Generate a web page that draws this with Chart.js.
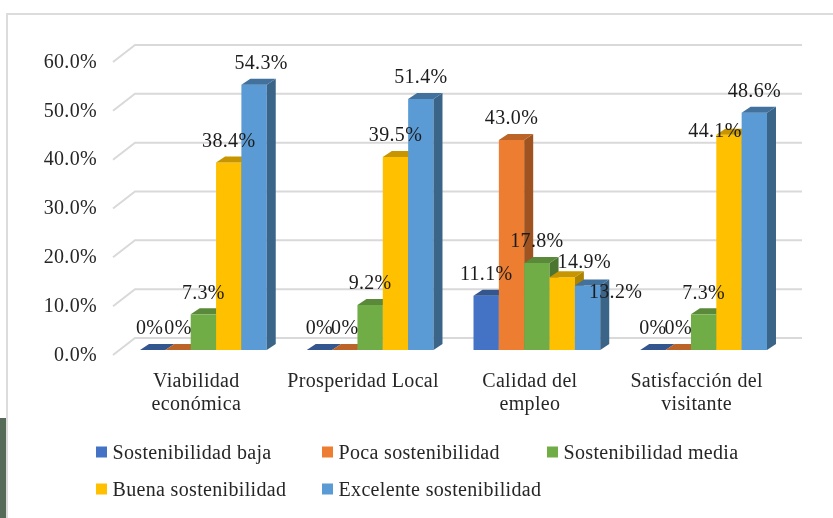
<!DOCTYPE html>
<html>
<head>
<meta charset="utf-8">
<script src="https://cdn.jsdelivr.net/npm/chart.js@4/dist/chart.umd.min.js"></script>
<style>
    html, body { margin: 0; background: #fff; overflow: hidden; }
    #wrap { position: relative; width: 833px; height: 518px; }
    #patch { position: absolute; left: 0; top: 418px; width: 6px; height: 100px; background: #566c58; }
    #frame { position: absolute; left: 6px; top: 13px; width: 840px; height: 503px; border: 2px solid #dcdcdc; border-bottom-color: #efefef; }
    canvas { position: absolute; left: 0; top: 0; filter: blur(0.35px); }
</style>
</head>
<body>
<div id="wrap">
    <div id="patch"></div>
    <div id="frame"></div>
    <canvas id="chart-area" width="833" height="518"></canvas>
</div>
<script>
var categories = [['Viabilidad', 'económica'], 'Prosperidad Local', ['Calidad del', 'empleo'], ['Satisfacción del', 'visitante']];
var seriesNames = ['Sostenibilidad baja', 'Poca sostenibilidad', 'Sostenibilidad media', 'Buena sostenibilidad', 'Excelente sostenibilidad'];
var baja = [0, 0, 11.1, 0];
var poca = [0, 0, 43.0, 0];
var media = [7.3, 9.2, 17.8, 7.3];
var buena = [38.4, 39.5, 14.9, 44.1];
var excelente = [54.3, 51.4, 13.2, 48.6];
var seriesValues = [baja, poca, media, buena, excelente];
var yTicks = [0, 10, 20, 30, 40, 50, 60];

var frontColors = ['#4472C4', '#ED7D31', '#70AD47', '#FFC000', '#5B9BD5'];
var topColors = ['#34568F', '#BC6327', '#5A8A39', '#C79500', '#41719C'];
var sideColors = ['#2F4F86', '#9E5320', '#4C7630', '#AD8400', '#3A6488'];

var font = { family: '"Liberation Serif", serif', size: 20 };
var depthX = 9, depthY = 6;

// labels that sit away from their bar in the picture: [series, category, dx, dy]
var labelNudges = [[3, 2, 22, 7], [4, 2, 28, 28], [3, 3, -14, 18], [0, 0, -3, 0], [4, 0, 7, 0]];

function pctLabel(v) {
    return v === 0 ? '0%' : v.toFixed(1) + '%';
}

function drawFaces(chart, i) {
    var ctx = chart.ctx;
    chart.getDatasetMeta(i).data.forEach(function (bar) {
        var p = bar.getProps(['x', 'y', 'base', 'width'], true);
        var l = p.x - p.width / 2, r = p.x + p.width / 2;
        ctx.fillStyle = sideColors[i];
        ctx.beginPath();
        ctx.moveTo(r, p.y);
        ctx.lineTo(r + depthX, p.y - depthY);
        ctx.lineTo(r + depthX, p.base - depthY);
        ctx.lineTo(r, p.base);
        ctx.closePath();
        ctx.fill();
        ctx.fillStyle = topColors[i];
        ctx.beginPath();
        ctx.moveTo(l, p.y);
        ctx.lineTo(l + depthX, p.y - depthY);
        ctx.lineTo(r + depthX, p.y - depthY);
        ctx.lineTo(r, p.y);
        ctx.closePath();
        ctx.fill();
    });
}

var chart3d = {
    id: 'chart3d',
    beforeDraw: function (chart) {
        chart.ctx.letterSpacing = '0.33px';
    },
    // grid walls first, then the bars left to right so each one covers the side of the last
    beforeDatasetsDraw: function (chart) {
        var ctx = chart.ctx, y = chart.scales.y, area = chart.chartArea;
        ctx.save();
        ctx.strokeStyle = '#d9d9d9';
        ctx.lineWidth = 2;
        yTicks.forEach(function (t) {
            var py = y.getPixelForValue(t);
            ctx.beginPath();
            ctx.moveTo(area.left - 7, py + 5);
            ctx.lineTo(area.left + 15, py - 12);
            ctx.lineTo(area.right + 15, py - 12);
            ctx.stroke();
        });
        chart.data.datasets.forEach(function (ds, i) {
            chart.getDatasetMeta(i).controller.draw();
            drawFaces(chart, i);
        });
        ctx.restore();
        return false;
    },
    afterDraw: function (chart) {
        var ctx = chart.ctx;
        ctx.save();
        ctx.font = font.size + 'px ' + font.family;

        // value labels
        ctx.fillStyle = '#1c1c1c';
        ctx.textAlign = 'center';
        ctx.textBaseline = 'middle';
        chart.data.datasets.forEach(function (ds, i) {
            chart.getDatasetMeta(i).data.forEach(function (bar, c) {
                var dx = 0, dy = 0;
                labelNudges.forEach(function (n) {
                    if (n[0] === i && n[1] === c) { dx = n[2]; dy = n[3]; }
                });
                ctx.fillText(pctLabel(ds.data[c]), bar.x + dx, bar.y - 21 + dy);
            });
        });

        // legend, two rows on fixed columns
        var cols = [96, 322, 547], rows = [452, 489];
        ctx.textAlign = 'left';
        chart.data.datasets.forEach(function (ds, i) {
            var cx = cols[i % 3], cy = rows[Math.floor(i / 3)];
            ctx.fillStyle = frontColors[i];
            ctx.fillRect(cx, cy - 5.5, 11, 11);
            ctx.fillStyle = '#262626';
            ctx.fillText(ds.label, cx + 16.5, cy + 1.5);
        });
        ctx.restore();
    }
};

var config = {
    type: 'bar',
    data: {
        labels: categories,
        datasets: seriesNames.map(function (name, i) {
            return {
                label: name,
                data: seriesValues[i],
                backgroundColor: frontColors[i],
                categoryPercentage: 0.76,
                barPercentage: 1
            };
        })
    },
    options: {
        responsive: false,
        animation: false,
        layout: { padding: { left: 0, right: 46, top: 57, bottom: 20 } },
        plugins: { legend: { display: false }, tooltip: { enabled: false } },
        scales: {
            x: {
                grid: { display: false },
                border: { display: false },
                ticks: { color: '#262626', font: { family: font.family, size: font.size, lineHeight: 1.15 }, padding: 12, maxRotation: 0, autoSkip: false, labelOffset: -7 },
                afterFit: function (s) { s.height = 148; }
            },
            y: {
                min: 0,
                max: 60,
                grid: { display: false },
                border: { display: false },
                afterBuildTicks: function (s) { s.ticks = yTicks.map(function (v) { return { value: v }; }); },
                ticks: {
                    color: '#262626',
                    font: font,
                    padding: 15,
                    labelOffset: 5.5,
                    callback: function (v) { return v.toFixed(1) + '%'; }
                },
                afterFit: function (s) { s.width = 120; }
            }
        }
    },
    plugins: [chart3d]
};

window.onload = function () {
    var ctx = document.getElementById('chart-area').getContext('2d');
    window.myBars = new Chart(ctx, config);
};
</script>
</body>
</html>
